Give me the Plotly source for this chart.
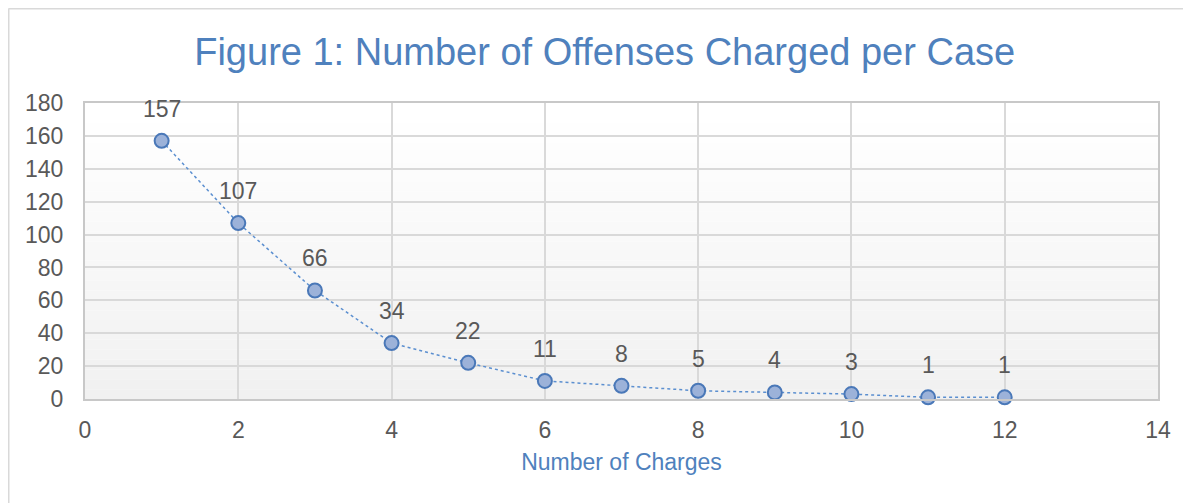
import plotly.graph_objects as go

charges = [1, 2, 3, 4, 5, 6, 7, 8, 9, 10, 11, 12]
cases = [157, 107, 66, 34, 22, 11, 8, 5, 4, 3, 1, 1]
x_ticks = [0, 2, 4, 6, 8, 10, 12, 14]
y_ticks = [0, 20, 40, 60, 80, 100, 120, 140, 160, 180]

BLUE = "#4f81bd"
GREY_TEXT = "#595959"
FONT = "Liberation Sans, Arial, sans-serif"

# page body has an 8px margin, so the figure is offset by (8, 8) on screen
L, T, R, B = 77, 95, 41, 112
PW = 1191 - L - R
PH = 503 - T - B

fig = go.Figure()
fig.add_trace(go.Scatter(
    x=charges, y=cases,
    mode="lines+markers",
    line=dict(color="#5b8fd0", width=1.5, dash="dot"),
    marker=dict(size=14, color="#9cb2d9", line=dict(color="#4a78b8", width=2)),
    cliponaxis=False,
    showlegend=False,
))

# data labels above each point
for xv, yv in zip(charges, cases):
    fig.add_annotation(x=xv, y=yv, text=str(yv), showarrow=False,
                       yshift=32, font=dict(size=23, color=GREY_TEXT, family=FONT))

# faint vertical gradient in the plot area (white at top -> light grey at bottom)
n = 30
for i in range(n):
    t = i / (n - 1)
    g = int(round(255 - t * 14))
    fig.add_shape(type="rect", xref="x domain", yref="y domain",
                  x0=0, x1=1, y0=1 - (i + 1) / n, y1=1 - i / n,
                  fillcolor=f"rgb({g},{g},{g})", line_width=0, layer="below")

# outer chart border (top and left edges)
bx = (0.5 - L) / PW
by = 1 + (T - 0.5) / PH
fig.add_shape(type="line", xref="paper", yref="paper",
              x0=bx, x1=(1191 - L) / PW, y0=by, y1=by,
              line=dict(color="#d9d9d9", width=2))
fig.add_shape(type="line", xref="paper", yref="paper",
              x0=bx, x1=bx, y0=by, y1=-(B + 10) / PH,
              line=dict(color="#d9d9d9", width=2))

fig.update_layout(
    width=1191, height=503,
    margin=dict(l=L, r=R, t=T, b=B, autoexpand=False),
    paper_bgcolor="white",
    plot_bgcolor="white",
    font=dict(family=FONT, color=GREY_TEXT, size=23),
    title=dict(text="Figure 1: Number of Offenses Charged per Case",
               font=dict(size=38, color=BLUE, family=FONT),
               x=0.501, xanchor="center", y=1 - 44 / 503, yanchor="middle"),
    xaxis=dict(range=[0, 14], tickvals=x_ticks, showgrid=True,
               gridcolor="#d9d9d9", gridwidth=1.5, zeroline=False,
               showline=True, linecolor="#c8c8c8", linewidth=2, mirror=True,
               ticks="", ticklabelstandoff=9,
               tickfont=dict(size=23, color=GREY_TEXT),
               title=dict(text="Number of Charges", standoff=12,
                          font=dict(size=23, color=BLUE))),
    yaxis=dict(range=[0, 180], tickvals=y_ticks, showgrid=True,
               gridcolor="#d9d9d9", gridwidth=1.5, zeroline=False,
               showline=True, linecolor="#c8c8c8", linewidth=2, mirror=True,
               ticks="", ticklabelstandoff=15,
               tickfont=dict(size=23, color=GREY_TEXT)),
)

fig.write_html("out.html")
